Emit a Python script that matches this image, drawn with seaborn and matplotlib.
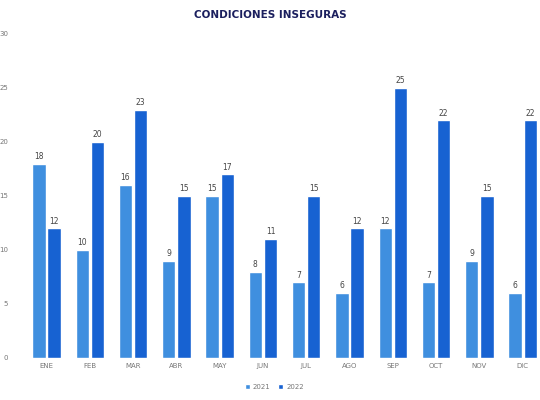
import matplotlib
matplotlib.use("Agg")
import matplotlib.pyplot as plt
import seaborn as sns
import pandas as pd

months = ["ENE", "FEB", "MAR", "ABR", "MAY", "JUN", "JUL", "AGO", "SEP", "OCT", "NOV", "DIC"]
values_2021 = [18, 10, 16, 9, 15, 8, 7, 6, 12, 7, 9, 6]
values_2022 = [12, 20, 23, 15, 17, 11, 15, 12, 25, 22, 15, 22]
years = ["2021", "2022"]
colors = ["#3f8fdf", "#1762d2"]

df = pd.DataFrame({
    "mes": months * 2,
    "valor": values_2021 + values_2022,
    "año": [years[0]] * len(months) + [years[1]] * len(months),
})

sns.set_theme(style="white")
fig = plt.figure(figsize=(5.4, 4.0), dpi=100)
ax = fig.add_axes([0.046, 0.105, 0.962, 0.81])

sns.barplot(data=df, x="mes", y="valor", hue="año", palette=colors,
            saturation=1, width=0.7, gap=0.12, ax=ax, legend=True)

for cont in ax.containers:
    ax.bar_label(cont, fmt="%d", padding=2, fontsize=5.5, color="#444444")

ax.set_ylim(0, 30)
ax.set_yticks(range(0, 31, 5))
ax.set_xlabel("")
ax.set_ylabel("")
ax.tick_params(axis="both", labelsize=5, colors="#777777", length=0)
ax.tick_params(axis="y", pad=12)
for s in ax.spines.values():
    s.set_visible(False)

leg = ax.legend(loc="upper center", bbox_to_anchor=(0.48, -0.06), ncol=2,
                frameon=False, fontsize=5, handlelength=0.7, handleheight=0.7,
                columnspacing=1.2, handletextpad=0.4, labelcolor="#777777")

fig.text(0.5, 0.962, "CONDICIONES INSEGURAS", ha="center", va="center",
         fontsize=7.5, fontweight="bold", color="#1b1f5e")

fig.savefig("out.png", dpi=100)
